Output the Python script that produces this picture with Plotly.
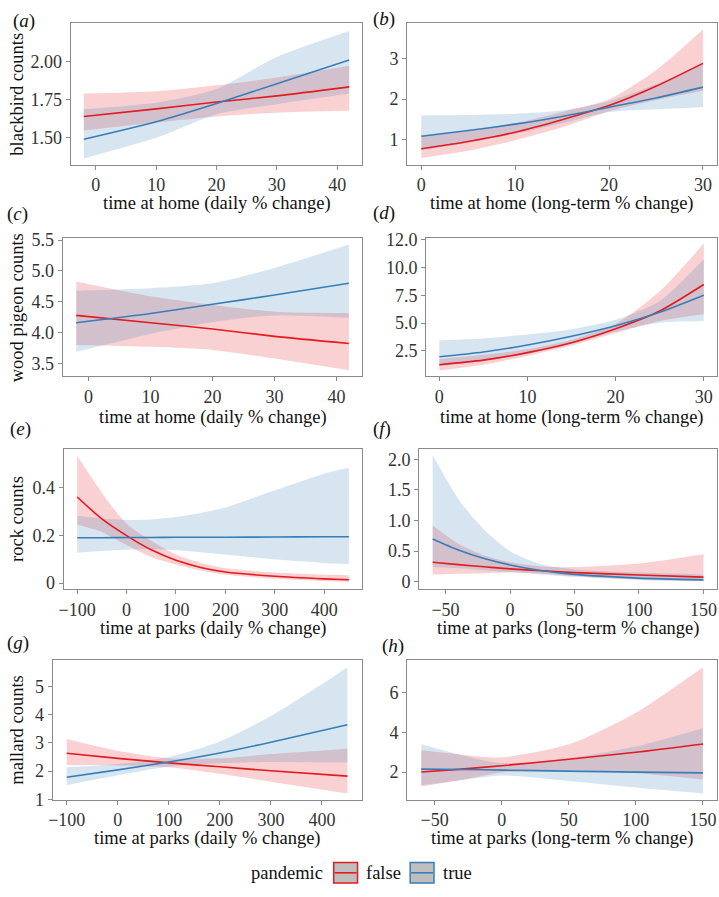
import plotly.graph_objects as go

W, H = 719, 897
RED = '#E41A1C'
BLUE = '#377EB8'
RED_FILL = 'rgba(228,26,28,0.2)'
BLUE_FILL = 'rgba(55,126,184,0.2)'
FONT = 'Liberation Serif'

# ---------------- data ----------------
# (a) blackbird vs time at home (daily % change)
a_x = [-2, 10, 20, 30, 42]
a_false = [1.64, 1.69, 1.735, 1.775, 1.834]
a_false_lo = [1.548, 1.60, 1.64, 1.665, 1.677]
a_false_hi = [1.79, 1.805, 1.845, 1.895, 1.972]
a_true = [1.49, 1.605, 1.725, 1.855, 2.01]
a_true_lo = [1.365, 1.50, 1.655, 1.72, 1.79]
a_true_hi = [1.688, 1.73, 1.82, 2.03, 2.20]

# (b) blackbird vs time at home (long-term % change)
b_x = [0, 5, 10, 15, 20, 25, 30]
b_false = [0.77, 0.95, 1.18, 1.49, 1.84, 2.32, 2.89]
b_false_lo = [0.54, 0.72, 0.98, 1.30, 1.70, 1.98, 2.21]
b_false_hi = [1.07, 1.22, 1.40, 1.68, 2.00, 2.72, 3.73]
b_true = [1.08, 1.22, 1.38, 1.57, 1.80, 2.03, 2.30]
b_true_lo = [0.74, 0.92, 1.14, 1.40, 1.68, 1.75, 1.80]
b_true_hi = [1.60, 1.61, 1.64, 1.72, 1.95, 2.37, 2.90]

# (c) wood pigeon vs time at home (daily % change)
c_x = [-2, 10, 20, 30, 42]
c_false = [4.28, 4.16, 4.06, 3.94, 3.825]
c_false_lo = [3.80, 3.77, 3.72, 3.58, 3.39]
c_false_hi = [4.83, 4.59, 4.45, 4.34, 4.32]
c_true = [4.16, 4.31, 4.46, 4.61, 4.80]
c_true_lo = [3.69, 3.98, 4.17, 4.28, 4.24]
c_true_hi = [4.68, 4.72, 4.80, 5.05, 5.43]

# (d) wood pigeon vs time at home (long-term % change)
d_x = [0, 5, 10, 15, 20, 25, 30]
d_false = [1.26, 1.67, 2.35, 3.24, 4.50, 6.10, 8.49]
d_false_lo = [0.73, 1.25, 2.05, 2.98, 4.12, 5.20, 5.80]
d_false_hi = [1.77, 2.15, 2.65, 3.50, 4.92, 7.87, 12.17]
d_true = [1.97, 2.41, 3.03, 3.82, 4.77, 5.98, 7.52]
d_true_lo = [1.15, 1.60, 2.25, 3.15, 4.25, 5.05, 5.20]
d_true_hi = [3.45, 3.62, 3.97, 4.45, 5.30, 7.00, 10.76]

# (e) rock vs time at parks (daily % change)
e_x = [-100, -50, 0, 50, 100, 150, 200, 300, 400, 450]
e_false = [0.362, 0.27, 0.20, 0.14, 0.096, 0.066, 0.047, 0.029, 0.018, 0.014]
e_false_lo = [0.245, 0.215, 0.16, 0.11, 0.078, 0.053, 0.035, 0.019, 0.009, 0.006]
e_false_hi = [0.535, 0.38, 0.25, 0.178, 0.12, 0.085, 0.063, 0.045, 0.036, 0.033]
e_true = [0.191, 0.191, 0.192, 0.192, 0.193, 0.193, 0.193, 0.194, 0.195, 0.195]
e_true_lo = [0.128, 0.135, 0.14, 0.142, 0.138, 0.13, 0.12, 0.10, 0.085, 0.08]
e_true_hi = [0.283, 0.272, 0.266, 0.268, 0.278, 0.295, 0.318, 0.39, 0.46, 0.485]

# (f) rock vs time at parks (long-term % change)
f_x = [-60, -40, -20, 0, 25, 50, 100, 150]
f_false = [0.32, 0.28, 0.245, 0.21, 0.18, 0.15, 0.11, 0.075]
f_false_lo = [0.12, 0.13, 0.14, 0.15, 0.13, 0.09, 0.035, 0.012]
f_false_hi = [0.92, 0.62, 0.43, 0.32, 0.25, 0.24, 0.30, 0.45]
f_true = [0.70, 0.52, 0.38, 0.275, 0.18, 0.12, 0.06, 0.03]
f_true_lo = [0.24, 0.22, 0.19, 0.16, 0.12, 0.08, 0.03, 0.01]
f_true_hi = [2.07, 1.35, 0.85, 0.50, 0.28, 0.20, 0.15, 0.12]

# (g) mallard vs time at parks (daily % change)
g_x = [-100, 0, 100, 200, 300, 450]
g_false = [2.63, 2.45, 2.29, 2.15, 2.01, 1.82]
g_false_lo = [2.21, 2.20, 2.13, 1.90, 1.62, 1.20]
g_false_hi = [3.14, 2.72, 2.45, 2.45, 2.60, 2.79]
g_true = [1.78, 2.04, 2.32, 2.64, 3.02, 3.64]
g_true_lo = [1.50, 1.85, 2.16, 2.28, 2.32, 2.30]
g_true_hi = [2.13, 2.25, 2.50, 3.05, 3.95, 5.67]

# (h) mallard vs time at parks (long-term % change)
h_x = [-60, -30, 0, 50, 100, 150]
h_false = [2.0, 2.15, 2.32, 2.65, 3.0, 3.42]
h_false_lo = [1.27, 1.60, 1.98, 2.10, 1.95, 1.62]
h_false_hi = [3.10, 2.88, 2.74, 3.40, 5.0, 7.30]
h_true = [2.15, 2.13, 2.10, 2.05, 2.0, 1.96]
h_true_lo = [1.33, 1.60, 1.83, 1.55, 1.22, 0.92]
h_true_hi = [3.40, 2.85, 2.45, 2.70, 3.30, 4.22]

# tick labels
a_yticks = [1.50, 1.75, 2.00]
a_yticktext = ['1.50', '1.75', '2.00']
b_yticks = [1, 2, 3]
c_yticks = [3.5, 4.0, 4.5, 5.0, 5.5]
c_yticktext = ['3.5', '4.0', '4.5', '5.0', '5.5']
d_yticks = [2.5, 5.0, 7.5, 10.0, 12.5]
d_yticktext = ['2.5', '5.0', '7.5', '10.0', '12.0']
e_yticks = [0, 0.2, 0.4]
e_yticktext = ['0', '0.2', '0.4']
f_yticks = [0, 0.5, 1.0, 1.5, 2.0]
f_yticktext = ['0', '0.5', '1.0', '1.5', '2.0']
g_yticks = [1, 2, 3, 4, 5]
h_yticks = [2, 4, 6]
home_daily_xticks = [0, 10, 20, 30, 40]
home_long_xticks = [0, 10, 20, 30]
parks_daily_xticks = [-100, 0, 100, 200, 300, 400]
parks_long_xticks = [-50, 0, 50, 100, 150]

species = ['blackbird counts', 'wood pigeon counts', 'rock counts', 'mallard counts']
xtitles = ['time at home (daily % change)', 'time at home (long-term % change)',
           'time at parks (daily % change)', 'time at parks (long-term % change)']
panel_letters = ['a', 'b', 'c', 'd', 'e', 'f', 'g', 'h']
group_names = ['false', 'true']

panels = [
    (a_x, a_false, a_false_lo, a_false_hi, a_true, a_true_lo, a_true_hi),
    (b_x, b_false, b_false_lo, b_false_hi, b_true, b_true_lo, b_true_hi),
    (c_x, c_false, c_false_lo, c_false_hi, c_true, c_true_lo, c_true_hi),
    (d_x, d_false, d_false_lo, d_false_hi, d_true, d_true_lo, d_true_hi),
    (e_x, e_false, e_false_lo, e_false_hi, e_true, e_true_lo, e_true_hi),
    (f_x, f_false, f_false_lo, f_false_hi, f_true, f_true_lo, f_true_hi),
    (g_x, g_false, g_false_lo, g_false_hi, g_true, g_true_lo, g_true_hi),
    (h_x, h_false, h_false_lo, h_false_hi, h_true, h_true_lo, h_true_hi),
]

# ---------------- layout (pixels) ----------------
# (left, right, top, bottom) of each plot area
boxes = [
    (66, 360, 15, 160), (405, 717, 15, 160),
    (58, 360, 235, 376), (424, 717, 235, 376),
    (59, 360, 450, 593), (417, 717, 450, 593),
    (48, 359, 665, 808), (405, 717, 665, 808),
]
xranges = [[-4.2, 44.2], [-1.5, 31.5], [-4.2, 44.2], [-1.5, 31.5],
           [-127.5, 477.5], [-70.5, 160.5], [-127.5, 477.5], [-70.5, 160.5]]
yranges = [[1.323, 2.255], [0.37, 3.9], [3.29, 5.53], [0.2, 12.65],
           [-0.025, 0.564], [-0.12, 2.17], [0.98, 5.95], [0.6, 7.68]]
xticks = [home_daily_xticks, home_long_xticks, home_daily_xticks, home_long_xticks,
          parks_daily_xticks, parks_long_xticks, parks_daily_xticks, parks_long_xticks]
yticks = [(a_yticks, a_yticktext), (b_yticks, [str(v) for v in b_yticks]),
          (c_yticks, c_yticktext), (d_yticks, d_yticktext),
          (e_yticks, e_yticktext), (f_yticks, f_yticktext),
          (g_yticks, [str(v) for v in g_yticks]), (h_yticks, [str(v) for v in h_yticks])]
label_pos = [(19, 13), (382, 11), (13, 210), (382, 209),
             (16, 430), (380, 430), (13, 648), (391, 651)]
xtitle_y = [200, 418, 633, 848]


def px(x):
    return x / W


def py(y):
    return 1 - y / H


fig = go.Figure()
layout = dict(
    autosize=True, margin=dict(l=0, r=0, t=0, b=0),
    paper_bgcolor='white', plot_bgcolor='white', showlegend=False,
    font=dict(family=FONT, color='#111111'),
)
annotations = []
shapes = []

BORDER = '#8a8a8a'
TICKFONT = dict(family=FONT, size=18, color='#333333')

for i, (data, box) in enumerate(zip(panels, boxes)):
    x, f_m, f_lo, f_hi, t_m, t_lo, t_hi = data
    k = '' if i == 0 else str(i + 1)
    xa, ya = 'x' + k, 'y' + k
    common = dict(xaxis=xa, yaxis=ya, hoverinfo='skip')
    line_shape = dict(shape='spline', smoothing=0.7)
    for lo, hi, fillc in ((f_lo, f_hi, RED_FILL), (t_lo, t_hi, BLUE_FILL)):
        fig.add_trace(go.Scatter(x=x, y=lo, mode='lines', line=dict(width=0, **line_shape), **common))
        fig.add_trace(go.Scatter(x=x, y=hi, mode='lines', line=dict(width=0, **line_shape),
                                 fill='tonexty', fillcolor=fillc, **common))
    fig.add_trace(go.Scatter(x=x, y=f_m, mode='lines', name=group_names[0],
                             line=dict(color=RED, width=1.6, **line_shape), **common))
    fig.add_trace(go.Scatter(x=x, y=t_m, mode='lines', name=group_names[1],
                             line=dict(color=BLUE, width=1.6, **line_shape), **common))

    l, r, t, b = box
    axis_common = dict(showline=True, mirror=True, linecolor=BORDER, linewidth=1,
                       ticks='outside', ticklen=4, tickwidth=1, tickcolor=BORDER,
                       showgrid=False, zeroline=False, tickfont=TICKFONT)
    layout['xaxis' + k] = dict(domain=[px(l), px(r)], anchor=ya, range=xranges[i],
                               tickmode='array', tickvals=xticks[i], **axis_common)
    tv, tt = yticks[i]
    layout['yaxis' + k] = dict(domain=[py(b), py(t)], anchor=xa, range=yranges[i],
                               tickmode='array', tickvals=tv, ticktext=tt, **axis_common)

    # panel label
    lx, ly = label_pos[i]
    annotations.append(dict(x=px(lx), y=py(ly), xref='paper', yref='paper',
                            text='(<i>%s</i>)' % panel_letters[i], showarrow=False,
                            xanchor='center', yanchor='middle',
                            font=dict(family=FONT, size=19, color='#111111')))
    # x title
    row = i // 2
    annotations.append(dict(x=px((l + r) / 2), y=py(xtitle_y[row]), xref='paper', yref='paper',
                            text=xtitles[(row // 2) * 2 + (i % 2)], showarrow=False,
                            xanchor='center', yanchor='middle', borderpad=0,
                            font=dict(family=FONT, size=18.5, color='#111111')))
    # y title (left column only)
    if i % 2 == 0:
        annotations.append(dict(x=px(12), y=py((t + b) / 2), xref='paper', yref='paper',
                                text=species[row], showarrow=False, textangle=-90,
                                xanchor='center', yanchor='middle',
                                font=dict(family=FONT, size=18.5, color='#111111')))

# legend (drawn as decoration)
LEG_Y = 883
annotations.append(dict(x=px(284), y=py(LEG_Y), xref='paper', yref='paper', text='pandemic',
                        showarrow=False, xanchor='center', yanchor='middle',
                        font=dict(family=FONT, size=18.5, color='#111111')))
for (x0, col, name, tx) in ((331, RED, group_names[0], 362), (408, BLUE, group_names[1], 439)):
    shapes.append(dict(type='rect', xref='paper', yref='paper',
                       x0=px(x0), x1=px(x0 + 24), y0=py(893), y1=py(872),
                       fillcolor='#bebebe', line=dict(color=col, width=1.5)))
    shapes.append(dict(type='line', xref='paper', yref='paper',
                       x0=px(x0 + 1), x1=px(x0 + 23), y0=py(882.5), y1=py(882.5),
                       line=dict(color=col, width=1.6)))
    annotations.append(dict(x=px(tx), y=py(LEG_Y), xref='paper', yref='paper', text=name,
                            showarrow=False, xanchor='left', yanchor='middle',
                            font=dict(family=FONT, size=18.5, color='#111111')))

layout['annotations'] = annotations
layout['shapes'] = shapes
fig.update_layout(**layout)
# the graph div is pinned to the page origin so the page is exactly 719x897
fig.write_html('out.html',
               config={'displayModeBar': False},
               default_width='%dpx' % W,
               default_height='%dpx;position:absolute;left:0;top:0' % H)
